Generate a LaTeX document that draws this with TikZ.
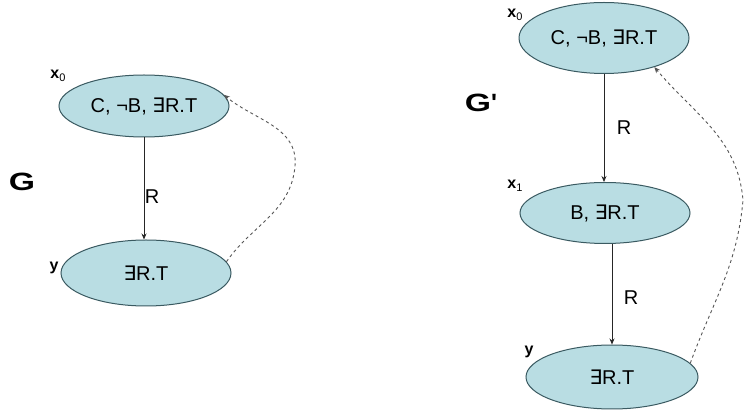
\documentclass[tikz,border=0pt]{standalone}
\usepackage{fontspec}
\setmainfont{Liberation Sans}
\newfontfamily\djv{DejaVu Sans}
\usetikzlibrary{shapes.geometric,arrows.meta}
\definecolor{nodefill}{HTML}{B9DDE3}
\definecolor{nodeline}{HTML}{3A5A61}
\definecolor{dashcol}{HTML}{555555}
\newcommand{\ex}{{\djv\char"2203}}
\newcommand{\lbl}[2]{\textbf{#1}{\fontsize{11}{11}\selectfont\raisebox{-3pt}{#2}}}
\newcommand{\wideg}[1]{\scalebox{1.35}[1]{#1}}
\newcommand{\sq}{{\addfontfeature{Ligatures=TeXOff}'}}
\begin{document}
\begin{tikzpicture}[x=1pt,y=-1pt,
  state/.style={ellipse,draw=nodeline,fill=nodefill,line width=1pt,inner sep=0pt,
    font=\fontsize{20}{20}\selectfont},
  edge/.style={-{Stealth[length=6pt,width=5pt]},line width=0.8pt,black!85},
  back/.style={-{Stealth[length=6pt,width=5pt]},line width=0.9pt,dashcol,dash pattern=on 3pt off 3pt},
  elabel/.style={font=\fontsize{20}{20}\selectfont},
  vlabel/.style={font=\fontsize{16}{16}\selectfont},
  glabel/.style={font=\fontsize{25}{25}\selectfont\bfseries}]
\useasboundingbox[fill=white] (0,0) rectangle (745,419);
% left graph G
\node[state,minimum width=170pt,minimum height=62pt] (lx) at (144,106) {C, \char"00AC B, \ex R.T};
\node[state,minimum width=170pt,minimum height=66pt] (ly) at (146,273) {\ex R.T};
\draw[edge] (lx.south) -- (lx.south |- ly.north);
\node[elabel] (lr) at (152,197) {R};
\node[glabel] (lg) at (22,182) {\wideg{G}};
\node[vlabel] (lx0) at (58,76) {\lbl{x}{0}};
\node[vlabel] (lyl) at (54,268) {\textbf{y}};
\coordinate (lpk) at (295,166);
\draw[back] (ly.8) to[out=55,in=-95] (lpk) to[out=85,in=-40] (lx.8);
% right graph G'
\node[state,minimum width=170pt,minimum height=71pt] (rx0) at (604,38) {C, \char"00AC B, \ex R.T};
\node[state,minimum width=170pt,minimum height=61pt] (rx1) at (605,213) {B, \ex R.T};
\node[state,minimum width=172pt,minimum height=64pt] (ry) at (612,377) {\ex R.T};
\draw[edge] (rx0.south) -- (rx0.south |- rx1.north);
\draw[edge] (ry.north |- rx1.south) -- (ry.north);
\node[elabel] (rr1) at (624,128) {R};
\node[elabel] (rr2) at (631,298) {R};
\node[glabel] (rg) at (481,103) {\wideg{G}\sq};
\node[vlabel] (rx0l) at (515,15) {\lbl{x}{0}};
\node[vlabel] (rx1l) at (515,186) {\lbl{x}{1}};
\node[vlabel] (ryl) at (529,352) {\textbf{y}};
\coordinate (rpk) at (743,200);
\draw[back] (ry.10) to[out=70,in=-95] (rpk) to[out=95,in=-50] (rx0.-30);
\end{tikzpicture}
\end{document}
